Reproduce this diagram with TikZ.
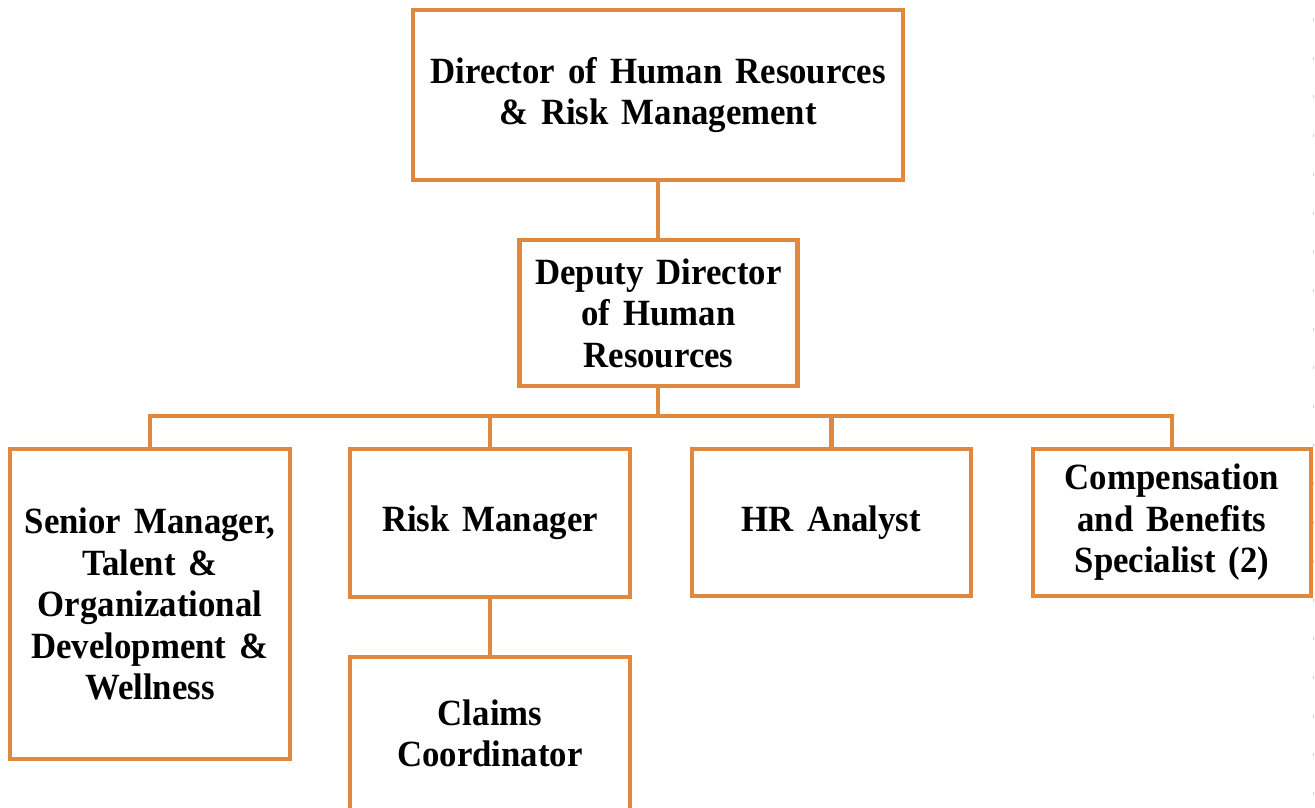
\documentclass[tikz,border=0pt]{standalone}
\usepackage{fontspec}
\setmainfont{Liberation Serif}[FakeStretch=0.94, WordSpace=1.5]
\definecolor{boxorange}{RGB}{224,136,62}
\tikzset{
  orgbox/.style={draw=boxorange, line width=4.5pt, fill=white, rectangle, inner sep=0pt,
    align=center, font=\fontsize{37}{41.5}\selectfont\bfseries},
  link/.style={draw=boxorange, line width=4.5pt}
}
\begin{document}
\begin{tikzpicture}[x=1pt,y=-1pt]
\useasboundingbox (0,0) rectangle (1315,807);
\fill[white] (0,0) rectangle (1315,807);
\draw[black!18, line width=1.2pt, dash pattern=on 3pt off 35.7pt] (1313.5,18) -- (1313.5,807);

\node[orgbox, minimum width=490pt, minimum height=170pt] (dir) at (658,95)
  {Director of Human Resources\\\& Risk Management};
\node[orgbox, minimum width=278pt, minimum height=146pt] (dep) at (658.5,313)
  {Deputy Director\\of Human\\Resources};
\node[orgbox, minimum width=280pt, minimum height=310pt] (sen) at (150,604)
  {Senior Manager,\\Talent \&\\Organizational\\Development \&\\Wellness};
\node[orgbox, minimum width=280pt, minimum height=148pt] (risk) at (490,523)
  {Risk Manager};
\node[orgbox, minimum width=279pt, minimum height=147pt] (hr) at (831.5,522.5)
  {HR Analyst};
\node[orgbox, minimum width=278pt, minimum height=147pt] (comp) at (1172,522.5)
  {Compensation\\and Benefits\\Specialist (2)};
\node[orgbox, minimum width=280pt, minimum height=153pt] (claims) at (490,733.5)
  {Claims\\Coordinator};

\draw[link] (dir.south) -- (dir.south |- dep.north);
\coordinate (bus) at (658,416);
\draw[link] (dep.south -| bus) -- (bus);
\draw[link] (bus) -| (sen.north);
\draw[link] (bus) -| (risk.north);
\draw[link] (bus) -| (hr.north);
\draw[link] (bus) -| (comp.north);
\draw[link] (risk.south) -- (claims.north);
\end{tikzpicture}
\end{document}
